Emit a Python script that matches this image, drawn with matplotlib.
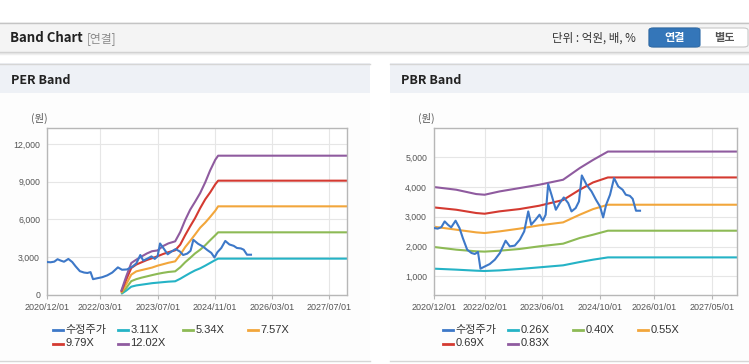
import matplotlib
matplotlib.use('Agg')
import matplotlib.pyplot as plt
import matplotlib.dates as mdates
from matplotlib.patches import Rectangle, FancyBboxPatch
from matplotlib.lines import Line2D
import pandas as pd

# ---------------- data ----------------
price_dates = ['2020-12-01', '2021-01-01', '2021-02-01', '2021-03-01', '2021-03-28', '2021-04-25',
               '2021-06-01', '2021-07-04', '2021-08-01', '2021-09-07', '2021-10-13', '2021-11-10',
               '2021-12-07', '2021-12-28', '2022-02-04', '2022-03-16', '2022-04-28', '2022-06-10',
               '2022-07-28', '2022-09-01', '2022-10-13', '2022-11-25', '2023-01-01', '2023-02-04',
               '2023-03-01', '2023-04-07', '2023-05-10', '2023-06-07', '2023-07-01', '2023-07-22',
               '2023-08-19', '2023-09-25', '2023-10-28', '2023-12-01', '2024-01-07', '2024-02-04',
               '2024-03-10', '2024-04-07', '2024-05-01', '2024-06-10', '2024-07-22', '2024-08-28',
               '2024-10-01', '2024-10-28', '2024-11-22', '2024-12-25', '2025-01-28', '2025-03-04',
               '2025-04-10', '2025-05-07', '2025-06-10', '2025-07-04', '2025-08-01', '2025-09-04']
price = [2620, 2600, 2650, 2843, 2732, 2643,
         2866, 2621, 2286, 1894, 1784, 1750,
         1818, 1258, 1335, 1413, 1559, 1784,
         2196, 2006, 2030, 2230, 2508, 3178,
         2732, 2900, 3067, 2866, 3067, 4095,
         3737, 3234, 3457, 3647, 3457, 3178,
         3290, 3514, 4384, 4072, 3848, 3570,
         3346, 2977, 3402, 3737, 4296, 4016,
         3905, 3737, 3700, 3600, 3201, 3201]

per_dates = ['2022-08-25', '2022-10-07', '2022-11-19', '2023-01-01', '2023-02-15', '2023-04-01',
             '2023-05-15', '2023-07-01', '2023-08-15', '2023-10-01', '2023-11-28', '2024-01-10',
             '2024-02-21', '2024-04-04', '2024-05-15', '2024-06-28', '2024-08-10', '2024-09-21',
             '2024-11-04', '2024-11-28', '2027-12-01']
per_labels = ['3.11X', '5.34X', '7.57X', '9.79X', '12.02X']
per_311 = [80, 350, 660, 760, 820, 880, 940, 980, 1020, 1060, 1090, 1290, 1520, 1750, 1950,
           2120, 2330, 2550, 2780, 2890, 2890]
per_534 = [135, 560, 1100, 1260, 1380, 1480, 1580, 1680, 1760, 1830, 1880, 2200, 2600, 2950,
           3300, 3600, 3950, 4350, 4750, 4980, 4980]
per_757 = [190, 850, 1620, 1880, 1980, 2080, 2180, 2330, 2440, 2560, 2675, 3200, 3800, 4300,
           4800, 5350, 5750, 6200, 6700, 7045, 7045]
per_979 = [245, 1220, 2145, 2420, 2600, 2780, 2920, 3080, 3250, 3400, 3550, 4000, 4750, 5460,
           6100, 6900, 7600, 8150, 8800, 9085, 9085]
per_1202 = [300, 1480, 2540, 2810, 3060, 3300, 3480, 3540, 3880, 4100, 4265, 5000, 5950, 6780,
            7400, 8100, 8950, 9900, 10750, 11070, 11070]

pbr_dates = ['2020-12-01', '2021-06-07', '2021-11-22', '2022-02-01', '2022-06-07', '2022-11-22',
             '2023-05-07', '2023-11-25', '2024-04-13', '2024-08-04', '2024-12-07', '2027-12-01']
pbr_labels = ['0.26X', '0.40X', '0.55X', '0.69X', '0.83X']
pbr_026 = [1258, 1225, 1190, 1180, 1200, 1247, 1302, 1370, 1480, 1560, 1636, 1636]
pbr_040 = [1985, 1895, 1840, 1830, 1860, 1918, 2006, 2096, 2286, 2397, 2531, 2531]
pbr_055 = [2665, 2565, 2475, 2453, 2508, 2600, 2710, 2810, 3067, 3256, 3402, 3402]
pbr_069 = [3312, 3234, 3124, 3100, 3180, 3256, 3368, 3560, 3905, 4150, 4317, 4317]
pbr_083 = [3995, 3905, 3760, 3737, 3848, 3960, 4072, 4240, 4630, 4905, 5185, 5185]

per_xticks = ['2020/12/01', '2022/03/01', '2023/07/01', '2024/11/01', '2026/03/01', '2027/07/01']
pbr_xticks = ['2020/12/01', '2022/02/01', '2023/06/01', '2024/10/01', '2026/01/01', '2027/05/01']
per_yticks = [0, 3000, 6000, 9000, 12000]
pbr_yticks = [1000, 2000, 3000, 4000, 5000]

# ---------------- style ----------------
C_PRICE = '#3d78c8'
BAND_COLORS = ['#25b3c6', '#8dba55', '#f2a63b', '#d43a31', '#8f5b9f']
LAT = ['Liberation Sans', 'Noto Sans CJK KR', 'DejaVu Sans']
KR = ['Noto Sans CJK KR', 'DejaVu Sans']

W, H = 749, 364
fig = plt.figure(figsize=(W / 100, H / 100), dpi=100)
fig.patch.set_facecolor('white')


def fx(x):
    return x / W


def fy(y):
    return 1 - y / H


def rect(x0, y0, x1, y1, color, z=0):
    fig.add_artist(Rectangle((fx(x0), fy(y1)), fx(x1) - fx(x0), fy(y0) - fy(y1),
                             transform=fig.transFigure, facecolor=color, edgecolor='none', zorder=z))


def hline(x0, x1, y, color, lw=1.0, z=1):
    fig.add_artist(Line2D([fx(x0), fx(x1)], [fy(y), fy(y)], transform=fig.transFigure,
                          color=color, lw=lw, zorder=z))


# header bar
rect(0, 22, W, 52, '#f4f4f4')
hline(0, W, 22.5, '#c4c4c4', 1.0)
hline(0, W, 52, '#cfcfcf', 1.0)
hline(0, W, 53, '#e2e2e2', 1.0)
hline(0, W, 54, '#efefef', 1.0)
fig.text(fx(10), fy(38.5), 'Band Chart', family=KR, fontsize=9.5, fontweight='bold',
         color='#222222', va='center', ha='left')
fig.text(fx(87), fy(38.5), '[연결]', family=KR, fontsize=8.5, color='#8a8a8a', va='center', ha='left')
fig.text(fx(552), fy(38.5), '단위 : 억원, 배, %', family=KR, fontsize=8.3, color='#333333',
         va='center', ha='left')
# buttons
fig.add_artist(FancyBboxPatch((fx(649), fy(47)), fx(748) - fx(649), fy(28) - fy(47),
                              boxstyle='round,pad=0,rounding_size=0.006', transform=fig.transFigure,
                              facecolor='white', edgecolor='#c8c8c8', lw=0.8, zorder=2))
fig.add_artist(FancyBboxPatch((fx(649), fy(47)), fx(700) - fx(649), fy(28) - fy(47),
                              boxstyle='round,pad=0,rounding_size=0.006', transform=fig.transFigure,
                              facecolor='#3476b9', edgecolor='#2d6aa8', lw=0.8, zorder=3))
fig.text(fx(674.5), fy(38), '연결', family=KR, fontsize=8, fontweight='bold', color='white',
         va='center', ha='center', zorder=4)
fig.text(fx(724), fy(38), '별도', family=KR, fontsize=8, fontweight='bold', color='#555555',
         va='center', ha='center', zorder=4)

# panels
panels = [(0, 370, 'PER Band'), (390, W, 'PBR Band')]
for (x0, x1, title) in panels:
    rect(x0, 63, x1, 93, '#eef1f6')
    rect(x0, 93, x1, 361, '#fdfdfd')
    hline(x0, x1, 63.5, '#d6d6d6', 1.0, 2)
    hline(x0, x1, 361, '#d6d6d6', 1.0, 2)
    fig.text(fx(x0 + 11), fy(80), title, family=KR, fontsize=9, fontweight='bold',
             color='#222222', va='center', ha='left')


def make_axes(x0, x1, ylim, yticks, xlabels):
    ax = fig.add_axes([fx(x0), fy(295), fx(x1) - fx(x0), (295 - 128) / H])
    ax.set_facecolor('white')
    ax.set_xlim(mdates.date2num(pd.Timestamp('2020-12-01')), mdates.date2num(pd.Timestamp('2027-12-01')))
    ax.set_ylim(*ylim)
    xt = [mdates.date2num(pd.Timestamp(s.replace('/', '-'))) for s in xlabels]
    ax.set_xticks(xt)
    ax.set_xticklabels(xlabels)
    ax.set_yticks(yticks)
    ax.set_yticklabels([f'{v:,}' for v in yticks])
    for s in ax.spines.values():
        s.set_color('#b7b7b7')
        s.set_linewidth(1.0)
    ax.grid(True, color='#e6e6e6', lw=0.8)
    ax.set_axisbelow(True)
    ax.tick_params(axis='x', length=3, color='#b7b7b7', pad=2.5, labelsize=6.5, labelcolor='#555555')
    ax.tick_params(axis='y', length=0, pad=5, labelsize=6.3, labelcolor='#555555')
    for lab in ax.get_xticklabels() + ax.get_yticklabels():
        lab.set_family(LAT)
    return ax


def legend(x_start, labels):
    cols = [x_start, x_start + 65, x_start + 130, x_start + 195]
    items = [('수정주가', C_PRICE)] + list(zip(labels, BAND_COLORS))
    for i, (lab, col) in enumerate(items):
        r, c = divmod(i, 4)
        y = 330 + r * 13.5
        x = cols[c]
        fig.add_artist(Line2D([fx(x), fx(x + 10)], [fy(y), fy(y)], transform=fig.transFigure,
                              color=col, lw=2.0, zorder=5))
        fig.text(fx(x + 12.5), fy(y), lab, family=LAT, fontsize=8, color='#333333',
                 va='center', ha='left', zorder=5)


pdates = pd.to_datetime(price_dates)

# PER
ax1 = make_axes(47, 347, (0, 13270), per_yticks, per_xticks)
d = pd.to_datetime(per_dates)
for ser, col in zip([per_311, per_534, per_757, per_979, per_1202], BAND_COLORS):
    ax1.plot(d, ser, color=col, lw=1.5, solid_capstyle='butt', zorder=2)
ax1.plot(pdates, price, color=C_PRICE, lw=1.5, zorder=3)
ax1.set_xlim(mdates.date2num(pd.Timestamp('2020-12-01')), mdates.date2num(pd.Timestamp('2027-12-01')))
fig.text(fx(31), fy(118), '(원)', family=KR, fontsize=7.5, color='#555555', va='center', ha='left')
legend(53, per_labels)

# PBR
ax2 = make_axes(434, 737, (375, 5975), pbr_yticks, pbr_xticks)
d = pd.to_datetime(pbr_dates)
for ser, col in zip([pbr_026, pbr_040, pbr_055, pbr_069, pbr_083], BAND_COLORS):
    ax2.plot(d, ser, color=col, lw=1.5, solid_capstyle='butt', zorder=2)
ax2.plot(pdates, price, color=C_PRICE, lw=1.5, zorder=3)
ax2.set_xlim(mdates.date2num(pd.Timestamp('2020-12-01')), mdates.date2num(pd.Timestamp('2027-12-01')))
fig.text(fx(418), fy(118), '(원)', family=KR, fontsize=7.5, color='#555555', va='center', ha='left')
legend(443, pbr_labels)

fig.savefig('out.png', dpi=100, facecolor='white')
